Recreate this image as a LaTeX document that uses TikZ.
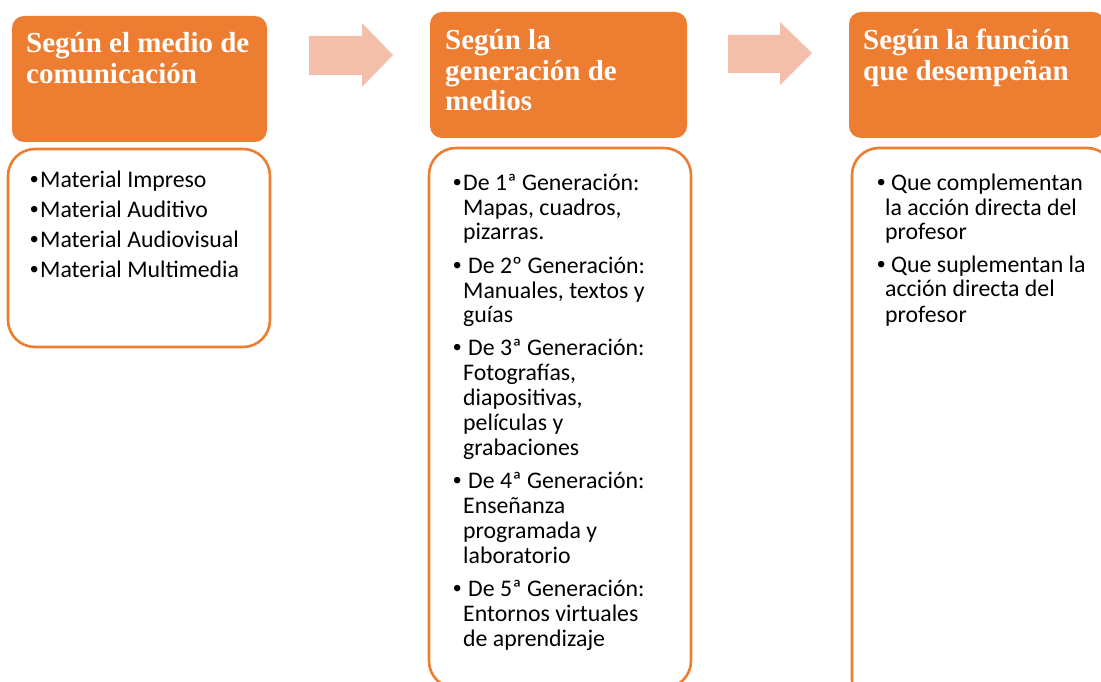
\documentclass[tikz,border=0pt]{standalone}
\usepackage{fontspec}
\setmainfont{Carlito}
\newfontfamily\hdrfont{Liberation Serif}
\newfontfamily\bulfont{Liberation Sans}
\definecolor{accent}{HTML}{ED7D31}
\definecolor{arrowfill}{HTML}{F4BFAA}
\newcommand\bl{\makebox[10pt][l]{\bulfont •}}
\newcommand\blw{\makebox[8pt][l]{\bulfont •}}
\tikzset{
  hdr/.style={draw=none, fill=accent, rounded corners=12pt, inner sep=0pt},
  bodybox/.style={draw=accent, line width=2.6pt, fill=white, rounded corners=27pt, inner sep=0pt},
  htext/.style={anchor=base west, inner sep=0pt, text=white, align=flush left, text width=300pt,
    font=\hdrfont\bfseries\fontsize{29}{30.5}\selectfont},
  btext/.style={anchor=base west, inner sep=0pt, text=black, align=flush left, text width=300pt,
    font=\fontsize{23.8}{25}\selectfont},
  arr/.style={fill=arrowfill, draw=none}
}
\begin{document}
\begin{tikzpicture}[x=1pt,y=-1pt]
\useasboundingbox (0,0) rectangle (1101,682);
\clip (0,0) rectangle (1101,682);
% column 1
\node[hdr, minimum width=255pt, minimum height=126pt] (h1) at (139.5,79) {};
\node[htext] (h1t) at (26,53) {Según el medio de\\comunicación};
\node[bodybox, minimum width=262pt, minimum height=198pt] (b1) at (139,248) {};
\node[btext] (b1t) at (30,188) {\bl Material Impreso\\[5pt]
\bl Material Auditivo\\[5pt]
\bl Material Audiovisual\\[5pt]
\bl Material Multimedia};
% column 2
\node[hdr, minimum width=257pt, minimum height=126pt] (h2) at (558.5,75) {};
\node[htext] (h2t) at (445,50) {Según la\\generación de\\medios};
\node[bodybox, minimum width=262pt, minimum height=540pt] (b2) at (560,418) {};
\node[btext] (b2t) at (453,190) {\bl De 1ª Generación:\\
\hspace*{10pt}Mapas, cuadros,\\
\hspace*{10pt}pizarras.\\[8pt]
\bl\hspace{5pt}De 2º Generación:\\
\hspace*{10pt}Manuales, textos y\\
\hspace*{10pt}guías\\[8pt]
\bl\hspace{5pt}De 3ª Generación:\\
\hspace*{10pt}Fotografías,\\
\hspace*{10pt}diapositivas,\\
\hspace*{10pt}películas y\\
\hspace*{10pt}grabaciones\\[8pt]
\bl\hspace{5pt}De 4ª Generación:\\
\hspace*{10pt}Enseñanza\\
\hspace*{10pt}programada y\\
\hspace*{10pt}laboratorio\\[8pt]
\bl\hspace{5pt}De 5ª Generación:\\
\hspace*{10pt}Entornos virtuales\\
\hspace*{10pt}de aprendizaje};
% column 3
\node[hdr, minimum width=256pt, minimum height=126pt] (h3) at (977,75) {};
\node[htext] (h3t) at (863,50) {Según la función\\que desempeñan};
\node[bodybox, minimum width=262pt, minimum height=560pt] (b3) at (983,428) {};
\node[btext] (b3t) at (877,190) {\blw\hspace{6pt}Que complementan\\
\hspace*{8pt}la acción directa del\\
\hspace*{8pt}profesor\\[7pt]
\blw\hspace{6pt}Que suplementan la\\
\hspace*{8pt}acción directa del\\
\hspace*{8pt}profesor};
% arrows
\fill[arr] (309,36) -- (362,36) -- (362,23) -- (393,55) -- (362,87) -- (362,75) -- (309,75) -- cycle;
\fill[arr] (728,35) -- (780,35) -- (780,22) -- (812,53) -- (780,85) -- (780,73) -- (728,73) -- cycle;
\end{tikzpicture}
\end{document}
